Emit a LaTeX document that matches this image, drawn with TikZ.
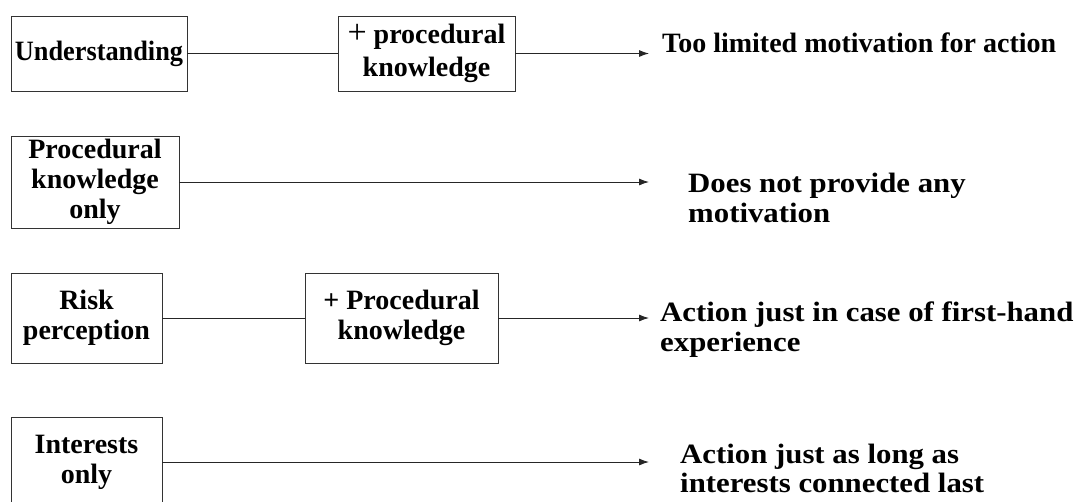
\documentclass[tikz,border=0pt]{standalone}
\usepackage{fontspec}
\setmainfont{Liberation Serif}[FakeStretch=1.0]
\newfontfamily\tightserif{Liberation Serif}[FakeStretch=0.94]
\newfontfamily\wideserif{Liberation Serif}[FakeStretch=1.1]
\usetikzlibrary{arrows.meta}
\begin{document}
\begin{tikzpicture}[x=1pt,y=-1pt,
  box/.style={draw=black!80, line width=0.9pt, align=center, inner sep=0pt,
    font=\fontsize{28}{30}\selectfont\bfseries},
  outcome/.style={anchor=base west, align=left, inner sep=0pt,
    font=\fontsize{28}{29.5}\selectfont\bfseries},
  link/.style={draw=black!85, line width=0.9pt},
  flow/.style={link, -{Latex[length=10pt,width=7pt]}}]
\useasboundingbox (0,0) rectangle (1089,501);
\clip (0,0) rectangle (1089,501);

% row 1
\node[box, minimum width=176pt, minimum height=75pt] (und) at (99,53.5) {\tightserif\bfseries Understanding};
\node[box, minimum width=177pt, minimum height=75pt, font=\fontsize{28}{33}\selectfont\bfseries] (proc1) at (426.5,53.5)
  {{\fontsize{34}{30}\selectfont\mdseries+} procedural\\knowledge};
\coordinate (tip1) at (649,53.5);
\node[outcome] (out1) at (662,52) {Too limited motivation for action};
\draw[link] (und) -- (proc1);
\draw[flow] (proc1) -- (tip1);

% row 2
\node[box, minimum width=168pt, minimum height=92pt] (proconly) at (95,182) {Procedural\\knowledge\\only};
\coordinate (tip2) at (649,182);
\node[outcome] (out2) at (688,222) {\wideserif\bfseries Does not provide any\\\wideserif\bfseries motivation};
\draw[flow] (proconly) -- (tip2);

% row 3
\node[box, minimum width=151pt, minimum height=90pt] (risk) at (86.5,318) {Risk\\perception};
\node[box, minimum width=193pt, minimum height=90pt] (proc3) at (401.5,318) {+ Procedural\\knowledge};
\coordinate (tip3) at (649,318);
\node[outcome] (out3) at (660,351) {\wideserif\bfseries Action just in case of first-hand\\\wideserif\bfseries experience};
\draw[link] (risk) -- (proc3);
\draw[flow] (proc3) -- (tip3);

% row 4
\node[box, minimum width=151pt, minimum height=90pt] (interests) at (86.5,462) {Interests\\only};
\coordinate (tip4) at (649,462);
\node[outcome] (out4) at (680,492.5) {\wideserif\bfseries Action just as long as\\\wideserif\bfseries interests connected last};
\draw[flow] (interests) -- (tip4);
\end{tikzpicture}
\end{document}
